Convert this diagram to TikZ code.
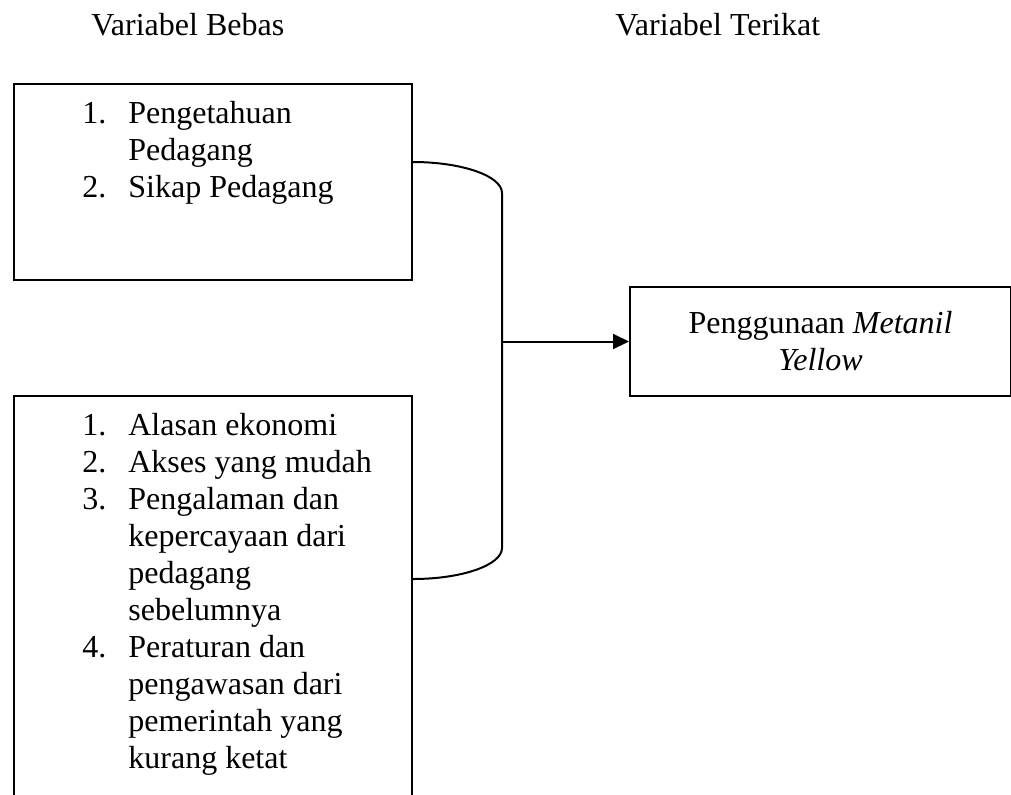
\documentclass[tikz,border=0pt]{standalone}
\usepackage{fontspec}
\setmainfont{Liberation Serif}
\usetikzlibrary{arrows.meta,calc,positioning}

\begin{document}
\begin{tikzpicture}[x=0.5pt,y=-0.5pt,
    every node/.style={font=\fontsize{16}{18.5}\selectfont},
    judul/.style={inner sep=0pt,anchor=base west},
    varbox/.style={draw,line width=1pt,inner sep=0pt,anchor=north west},
    itemlist/.style={inner sep=0pt,anchor=base west,align=left},
    link/.style={line width=1pt}]
        \clip (0,0) rectangle (1011,794);
        % judul kolom
        \node[judul] (judulbebas) at (91,35) {Variabel Bebas};
        \node[judul] (judulterikat) at (615,35) {Variabel Terikat};
        % kotak variabel
        \node[varbox,minimum width=199pt,minimum height=98pt]
          (bebas1) at (13,83) {};
        \node[varbox,minimum width=199pt,minimum height=212pt]
          (bebas2) at (13,395) {};
        \node[varbox,minimum width=190.5pt,minimum height=54.5pt,align=center]
          (terikat) at (629,286) {Penggunaan \textit{Metanil}\\\textit{Yellow}};
        \node[itemlist] (daftar1) at ($(bebas1.north west)+(69,40)$)
          {\begin{tabular}[t]{@{}p{23pt}@{}l@{}}
            1. & Pengetahuan\\
               & Pedagang\\
            2. & Sikap Pedagang
          \end{tabular}};
        \node[itemlist] (daftar2) at ($(bebas2.north west)+(69,40)$)
          {\begin{tabular}[t]{@{}p{23pt}@{}l@{}}
            1. & Alasan ekonomi\\
            2. & Akses yang mudah\\
            3. & Pengalaman dan\\
               & kepercayaan dari\\
               & pedagang\\
               & sebelumnya\\
            4. & Peraturan dan\\
               & pengawasan dari\\
               & pemerintah yang\\
               & kurang ketat
          \end{tabular}};
        % penghubung
        \coordinate (atas) at ($(bebas1.north east)+(0,79)$);
        \coordinate (bawah) at ($(bebas2.north east)+(0,184)$);
        \coordinate (siku) at ($(atas)+(89,0)$);
        \draw[link] (atas) .. controls ($(atas)+(49,0)$) and ($(atas)+(89,14)$)
          .. ($(atas)+(89,31)$) -- ($(bawah)+(89,-31)$)
          .. controls ($(bawah)+(89,-14)$) and ($(bawah)+(49,0)$) .. (bawah);
        \draw[link,-{Triangle[length=8pt,width=7.5pt]}]
          (siku |- terikat.west) -- (terikat.west);
      \end{tikzpicture}
\end{document}
